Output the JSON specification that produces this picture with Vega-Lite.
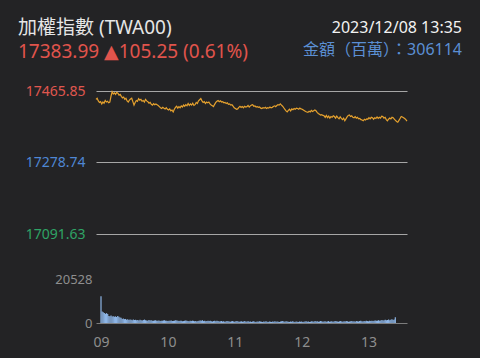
{
  "$schema": "https://vega.github.io/schema/vega-lite/v6.json",
  "background": "#232325",
  "padding": {"left": 18, "top": 18, "right": 18, "bottom": 9},
  "bounds": "flush",
  "spacing": 27,
  "config": {
    "view": {"stroke": null},
    "font": "Noto Sans, DejaVu Sans, Noto Sans CJK TC",
    "axis": {"labelFont": "Noto Sans", "ticks": false, "domain": false, "grid": false, "title": null, "labelFlush": false}
  },
  "datasets": {
    "px": [
      {"m":0,"p":17444},{"m":1,"p":17447},{"m":2,"p":17440},{"m":3,"p":17436},{"m":4,"p":17438},{"m":5,"p":17432},{"m":6,"p":17437},{"m":7,"p":17434},{"m":8,"p":17441},{"m":9,"p":17437},
      {"m":10,"p":17439},{"m":11,"p":17435},{"m":12,"p":17437},{"m":13,"p":17452},{"m":14,"p":17464},{"m":15,"p":17458},{"m":16,"p":17461},{"m":17,"p":17457},{"m":18,"p":17462},{"m":19,"p":17460},
      {"m":20,"p":17455},{"m":21,"p":17457},{"m":22,"p":17452},{"m":23,"p":17448},{"m":24,"p":17450},{"m":25,"p":17444},{"m":26,"p":17447},{"m":27,"p":17440},{"m":28,"p":17437},{"m":29,"p":17442},
      {"m":30,"p":17445},{"m":31,"p":17447},{"m":32,"p":17438},{"m":33,"p":17429},{"m":34,"p":17436},{"m":35,"p":17441},{"m":36,"p":17439},{"m":37,"p":17446},{"m":38,"p":17442},{"m":39,"p":17444},
      {"m":40,"p":17439},{"m":41,"p":17441},{"m":42,"p":17437},{"m":43,"p":17444},{"m":44,"p":17440},{"m":45,"p":17438},{"m":46,"p":17434},{"m":47,"p":17436},{"m":48,"p":17431},{"m":49,"p":17429},
      {"m":50,"p":17433},{"m":51,"p":17430},{"m":52,"p":17432},{"m":53,"p":17430},{"m":54,"p":17428},{"m":55,"p":17425},{"m":56,"p":17422},{"m":57,"p":17420},{"m":58,"p":17423},{"m":59,"p":17421},
      {"m":60,"p":17419},{"m":61,"p":17422},{"m":62,"p":17418},{"m":63,"p":17416},{"m":64,"p":17419},{"m":65,"p":17414},{"m":66,"p":17416},{"m":67,"p":17411},{"m":68,"p":17418},{"m":69,"p":17423},
      {"m":70,"p":17426},{"m":71,"p":17421},{"m":72,"p":17425},{"m":73,"p":17422},{"m":74,"p":17427},{"m":75,"p":17424},{"m":76,"p":17429},{"m":77,"p":17426},{"m":78,"p":17430},{"m":79,"p":17427},
      {"m":80,"p":17433},{"m":81,"p":17428},{"m":82,"p":17432},{"m":83,"p":17429},{"m":84,"p":17434},{"m":85,"p":17428},{"m":86,"p":17430},{"m":87,"p":17436},{"m":88,"p":17433},{"m":89,"p":17440},
      {"m":90,"p":17443},{"m":91,"p":17446},{"m":92,"p":17440},{"m":93,"p":17436},{"m":94,"p":17438},{"m":95,"p":17433},{"m":96,"p":17437},{"m":97,"p":17435},{"m":98,"p":17437},{"m":99,"p":17432},
      {"m":100,"p":17429},{"m":101,"p":17427},{"m":102,"p":17425},{"m":103,"p":17431},{"m":104,"p":17436},{"m":105,"p":17439},{"m":106,"p":17441},{"m":107,"p":17438},{"m":108,"p":17440},{"m":109,"p":17437},
      {"m":110,"p":17438},{"m":111,"p":17435},{"m":112,"p":17436},{"m":113,"p":17433},{"m":114,"p":17435},{"m":115,"p":17431},{"m":116,"p":17432},{"m":117,"p":17429},{"m":118,"p":17430},{"m":119,"p":17426},
      {"m":120,"p":17422},{"m":121,"p":17420},{"m":122,"p":17418},{"m":123,"p":17419},{"m":124,"p":17423},{"m":125,"p":17426},{"m":126,"p":17423},{"m":127,"p":17425},{"m":128,"p":17422},{"m":129,"p":17426},
      {"m":130,"p":17424},{"m":131,"p":17425},{"m":132,"p":17428},{"m":133,"p":17424},{"m":134,"p":17427},{"m":135,"p":17429},{"m":136,"p":17430},{"m":137,"p":17426},{"m":138,"p":17427},{"m":139,"p":17424},
      {"m":140,"p":17425},{"m":141,"p":17423},{"m":142,"p":17424},{"m":143,"p":17421},{"m":144,"p":17420},{"m":145,"p":17422},{"m":146,"p":17421},{"m":147,"p":17423},{"m":148,"p":17420},{"m":149,"p":17422},
      {"m":150,"p":17421},{"m":151,"p":17424},{"m":152,"p":17422},{"m":153,"p":17423},{"m":154,"p":17425},{"m":155,"p":17427},{"m":156,"p":17425},{"m":157,"p":17428},{"m":158,"p":17430},{"m":159,"p":17429},
      {"m":160,"p":17432},{"m":161,"p":17429},{"m":162,"p":17426},{"m":163,"p":17422},{"m":164,"p":17418},{"m":165,"p":17414},{"m":166,"p":17411},{"m":167,"p":17415},{"m":168,"p":17418},{"m":169,"p":17414},
      {"m":170,"p":17419},{"m":171,"p":17417},{"m":172,"p":17420},{"m":173,"p":17418},{"m":174,"p":17421},{"m":175,"p":17420},{"m":176,"p":17418},{"m":177,"p":17421},{"m":178,"p":17419},{"m":179,"p":17418},
      {"m":180,"p":17416},{"m":181,"p":17414},{"m":182,"p":17412},{"m":183,"p":17411},{"m":184,"p":17410},{"m":185,"p":17413},{"m":186,"p":17411},{"m":187,"p":17415},{"m":188,"p":17412},{"m":189,"p":17414},
      {"m":190,"p":17416},{"m":191,"p":17414},{"m":192,"p":17410},{"m":193,"p":17407},{"m":194,"p":17405},{"m":195,"p":17403},{"m":196,"p":17404},{"m":197,"p":17402},{"m":198,"p":17401},{"m":199,"p":17397},
      {"m":200,"p":17402},{"m":201,"p":17396},{"m":202,"p":17400},{"m":203,"p":17395},{"m":204,"p":17399},{"m":205,"p":17397},{"m":206,"p":17401},{"m":207,"p":17399},{"m":208,"p":17395},{"m":209,"p":17400},
      {"m":210,"p":17396},{"m":211,"p":17393},{"m":212,"p":17398},{"m":213,"p":17394},{"m":214,"p":17391},{"m":215,"p":17395},{"m":216,"p":17388},{"m":217,"p":17393},{"m":218,"p":17398},{"m":219,"p":17402},
      {"m":220,"p":17403},{"m":221,"p":17399},{"m":222,"p":17401},{"m":223,"p":17397},{"m":224,"p":17396},{"m":225,"p":17399},{"m":226,"p":17395},{"m":227,"p":17397},{"m":228,"p":17393},{"m":229,"p":17394},
      {"m":230,"p":17391},{"m":231,"p":17390},{"m":232,"p":17388},{"m":233,"p":17392},{"m":234,"p":17390},{"m":235,"p":17393},{"m":236,"p":17392},{"m":237,"p":17396},{"m":238,"p":17393},{"m":239,"p":17397},
      {"m":240,"p":17396},{"m":241,"p":17392},{"m":242,"p":17396},{"m":243,"p":17394},{"m":244,"p":17398},{"m":245,"p":17394},{"m":246,"p":17397},{"m":247,"p":17395},{"m":248,"p":17400},{"m":249,"p":17399},
      {"m":250,"p":17395},{"m":251,"p":17397},{"m":252,"p":17391},{"m":253,"p":17388},{"m":254,"p":17392},{"m":255,"p":17395},{"m":256,"p":17393},{"m":257,"p":17397},{"m":258,"p":17396},{"m":259,"p":17392},
      {"m":260,"p":17389},{"m":261,"p":17386},{"m":262,"p":17384},{"m":263,"p":17389},{"m":264,"p":17394},{"m":265,"p":17399},{"m":266,"p":17398},{"m":267,"p":17396},{"m":268,"p":17394},{"m":269,"p":17391},
      {"m":270,"p":17387}
    ],
    "vol": [
      {"m":0,"v":12500},{"m":1,"v":5400},{"m":2,"v":5000},{"m":3,"v":4700},{"m":4,"v":4300},{"m":5,"v":4600},{"m":6,"v":4200},{"m":7,"v":3300},{"m":8,"v":3100},{"m":9,"v":3500},
      {"m":10,"v":3000},{"m":11,"v":3200},{"m":12,"v":2900},{"m":13,"v":3100},{"m":14,"v":2800},{"m":15,"v":3300},{"m":16,"v":2900},{"m":17,"v":2600},{"m":18,"v":2400},{"m":19,"v":1900},
      {"m":20,"v":2100},{"m":21,"v":1800},{"m":22,"v":1900},{"m":23,"v":1500},{"m":24,"v":1700},{"m":25,"v":1400},{"m":26,"v":1600},{"m":27,"v":1500},{"m":28,"v":1300},{"m":29,"v":1600},
      {"m":30,"v":1400},{"m":31,"v":1500},{"m":32,"v":1300},{"m":33,"v":1400},{"m":34,"v":1200},{"m":35,"v":1500},{"m":36,"v":1300},{"m":37,"v":1200},{"m":38,"v":1400},{"m":39,"v":1600},
      {"m":40,"v":1300},{"m":41,"v":1200},{"m":42,"v":1100},{"m":43,"v":1400},{"m":44,"v":1200},{"m":45,"v":1300},{"m":46,"v":1100},{"m":47,"v":1000},{"m":48,"v":1200},{"m":49,"v":1300},
      {"m":50,"v":1100},{"m":51,"v":1000},{"m":52,"v":1200},{"m":53,"v":900},{"m":54,"v":1100},{"m":55,"v":1000},{"m":56,"v":1200},{"m":57,"v":1300},{"m":58,"v":1100},{"m":59,"v":1000},
      {"m":60,"v":900},{"m":61,"v":1100},{"m":62,"v":1000},{"m":63,"v":1200},{"m":64,"v":900},{"m":65,"v":1000},{"m":66,"v":1100},{"m":67,"v":1300},{"m":68,"v":1200},{"m":69,"v":1000},
      {"m":70,"v":900},{"m":71,"v":1100},{"m":72,"v":1000},{"m":73,"v":800},{"m":74,"v":900},{"m":75,"v":1000},{"m":76,"v":1200},{"m":77,"v":1100},{"m":78,"v":900},{"m":79,"v":800},
      {"m":80,"v":1000},{"m":81,"v":900},{"m":82,"v":1100},{"m":83,"v":1000},{"m":84,"v":800},{"m":85,"v":900},{"m":86,"v":700},{"m":87,"v":900},{"m":88,"v":1000},{"m":89,"v":1200},
      {"m":90,"v":1100},{"m":91,"v":1300},{"m":92,"v":900},{"m":93,"v":1000},{"m":94,"v":800},{"m":95,"v":900},{"m":96,"v":1100},{"m":97,"v":900},{"m":98,"v":1000},{"m":99,"v":800},
      {"m":100,"v":700},{"m":101,"v":900},{"m":102,"v":1000},{"m":103,"v":800},{"m":104,"v":1000},{"m":105,"v":900},{"m":106,"v":700},{"m":107,"v":800},{"m":108,"v":900},{"m":109,"v":700},
      {"m":110,"v":800},{"m":111,"v":600},{"m":112,"v":700},{"m":113,"v":900},{"m":114,"v":800},{"m":115,"v":700},{"m":116,"v":600},{"m":117,"v":800},{"m":118,"v":900},{"m":119,"v":700},
      {"m":120,"v":600},{"m":121,"v":800},{"m":122,"v":900},{"m":123,"v":700},{"m":124,"v":600},{"m":125,"v":700},{"m":126,"v":800},{"m":127,"v":600},{"m":128,"v":700},{"m":129,"v":900},
      {"m":130,"v":600},{"m":131,"v":700},{"m":132,"v":800},{"m":133,"v":600},{"m":134,"v":700},{"m":135,"v":500},{"m":136,"v":700},{"m":137,"v":800},{"m":138,"v":600},{"m":139,"v":500},
      {"m":140,"v":700},{"m":141,"v":600},{"m":142,"v":800},{"m":143,"v":700},{"m":144,"v":600},{"m":145,"v":500},{"m":146,"v":700},{"m":147,"v":600},{"m":148,"v":800},{"m":149,"v":600},
      {"m":150,"v":500},{"m":151,"v":700},{"m":152,"v":600},{"m":153,"v":500},{"m":154,"v":700},{"m":155,"v":600},{"m":156,"v":800},{"m":157,"v":600},{"m":158,"v":700},{"m":159,"v":600},
      {"m":160,"v":500},{"m":161,"v":700},{"m":162,"v":800},{"m":163,"v":900},{"m":164,"v":700},{"m":165,"v":600},{"m":166,"v":800},{"m":167,"v":700},{"m":168,"v":600},{"m":169,"v":500},
      {"m":170,"v":700},{"m":171,"v":600},{"m":172,"v":800},{"m":173,"v":600},{"m":174,"v":500},{"m":175,"v":700},{"m":176,"v":600},{"m":177,"v":500},{"m":178,"v":700},{"m":179,"v":600},
      {"m":180,"v":700},{"m":181,"v":500},{"m":182,"v":600},{"m":183,"v":700},{"m":184,"v":800},{"m":185,"v":600},{"m":186,"v":700},{"m":187,"v":500},{"m":188,"v":600},{"m":189,"v":800},
      {"m":190,"v":700},{"m":191,"v":600},{"m":192,"v":900},{"m":193,"v":700},{"m":194,"v":800},{"m":195,"v":600},{"m":196,"v":700},{"m":197,"v":900},{"m":198,"v":800},{"m":199,"v":600},
      {"m":200,"v":700},{"m":201,"v":800},{"m":202,"v":600},{"m":203,"v":700},{"m":204,"v":900},{"m":205,"v":600},{"m":206,"v":700},{"m":207,"v":800},{"m":208,"v":600},{"m":209,"v":700},
      {"m":210,"v":900},{"m":211,"v":800},{"m":212,"v":700},{"m":213,"v":600},{"m":214,"v":800},{"m":215,"v":900},{"m":216,"v":700},{"m":217,"v":600},{"m":218,"v":800},{"m":219,"v":700},
      {"m":220,"v":900},{"m":221,"v":800},{"m":222,"v":600},{"m":223,"v":700},{"m":224,"v":800},{"m":225,"v":900},{"m":226,"v":700},{"m":227,"v":800},{"m":228,"v":600},{"m":229,"v":900},
      {"m":230,"v":800},{"m":231,"v":700},{"m":232,"v":900},{"m":233,"v":1000},{"m":234,"v":800},{"m":235,"v":700},{"m":236,"v":900},{"m":237,"v":800},{"m":238,"v":1000},{"m":239,"v":900},
      {"m":240,"v":800},{"m":241,"v":1000},{"m":242,"v":900},{"m":243,"v":1100},{"m":244,"v":900},{"m":245,"v":1000},{"m":246,"v":1200},{"m":247,"v":1000},{"m":248,"v":1100},{"m":249,"v":1300},
      {"m":250,"v":1100},{"m":251,"v":1200},{"m":252,"v":1400},{"m":253,"v":1200},{"m":254,"v":1300},{"m":255,"v":1500},{"m":256,"v":1300},{"m":257,"v":1400},{"m":258,"v":1600},{"m":259,"v":1300},
      {"m":260,"v":1500},{"m":261,"v":1700},{"m":262,"v":1400},{"m":263,"v":1600},{"m":264,"v":2700}
    ]
  },
  "vconcat": [
    {
      "hconcat": [
        {
          "width": 183, "height": 1,
          "data": {"values": [{"a": 0}]},
          "mark": {"type": "point", "opacity": 0},
          "encoding": {},
          "title": {
            "text": "加權指數 (TWA00)",
            "subtitle": "17383.99 ▲105.25 (0.61%)",
            "anchor": "start", "frame": "group", "dx": -78, "offset": 0,
            "font": "Noto Sans, DejaVu Sans, Noto Sans CJK TC", "fontSize": 19, "fontWeight": "normal", "color": "#e6e6e6",
            "subtitleFont": "Noto Sans, DejaVu Sans, Noto Sans CJK TC", "subtitleFontSize": 19, "subtitleColor": "#e0544c", "subtitlePadding": 5
          }
        },
        {
          "width": 183, "height": 1,
          "data": {"values": [{"a": 0}]},
          "mark": {"type": "point", "opacity": 0},
          "encoding": {},
          "title": {
            "text": "2023/12/08 13:35",
            "subtitle": "金額（百萬）：306114",
            "anchor": "end", "frame": "group", "offset": 0, "dy": -3.5,
            "font": "Noto Sans, Noto Sans CJK TC", "fontSize": 16, "fontWeight": "normal", "color": "#f2f2f2",
            "subtitleFont": "Noto Sans, Noto Sans CJK TC", "subtitleFontSize": 16, "subtitleColor": "#5b8fd4", "subtitlePadding": 6
          }
        }
      ],
      "spacing": 0,
      "bounds": "flush"
    },
    {
      "vconcat": [
        {
          "width": 311, "height": 143,
          "data": {"name": "px"},
          "mark": {"type": "line", "color": "#e5a12e", "strokeWidth": 1.2},
          "encoding": {
            "x": {"field": "m", "type": "quantitative", "scale": {"domain": [0, 270], "nice": false, "zero": false}, "axis": null},
            "y": {"field": "p", "type": "quantitative", "scale": {"domain": [17091.63, 17465.85], "nice": false, "zero": false},
              "axis": {"values": [17091.63, 17278.74, 17465.85], "format": ".2f", "grid": true, "gridColor": "#a6a6a6", "gridWidth": 1, "gridOpacity": 1,
                "labelFontSize": 14, "labelPadding": 11,
                "labelColor": {"expr": "datum.value > 17400 ? '#e0574f' : datum.value > 17200 ? '#4f87d4' : '#2fa366'"}}}
          }
        },
        {
          "width": 311, "height": 44,
          "data": {"name": "vol"},
          "mark": {"type": "bar", "size": 1.2, "color": "#8db5e6"},
          "encoding": {
            "x": {"field": "m", "type": "quantitative", "scale": {"domain": [0, 270], "nice": false, "zero": false},
              "axis": {"values": [0, 60, 120, 180, 240], "labelExpr": "datum.value == 0 ? '09' : format(9 + datum.value / 60, 'd')",
                "domain": true, "domainColor": "#7c7c7c", "domainWidth": 1, "labelFontSize": 14, "labelColor": "#8e8e8e", "labelPadding": 12, "labelFlush": false}},
            "y": {"field": "v", "type": "quantitative", "scale": {"domain": [0, 20528], "nice": false},
              "axis": {"values": [0, 20528], "format": "d", "labelFontSize": 13, "labelColor": "#8e8e8e", "labelPadding": 4}}
          }
        }
      ],
      "spacing": 45,
      "bounds": "flush"
    }
  ]
}
